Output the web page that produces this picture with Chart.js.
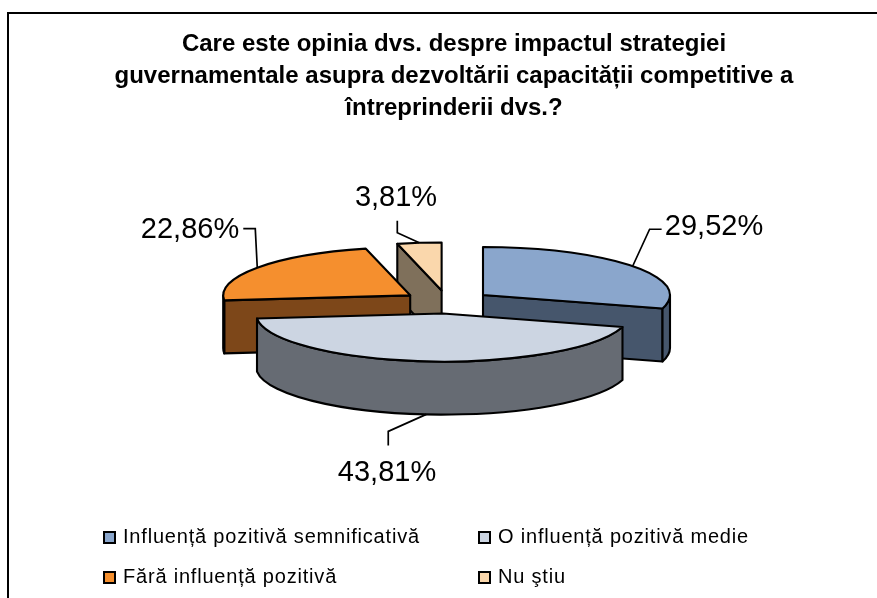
<!DOCTYPE html>
<html><head><meta charset="utf-8">
<style>html,body{margin:0;padding:0;background:#fff}#w{width:877px;height:598px}canvas{display:block}</style>
<script src="https://cdn.jsdelivr.net/npm/chart.js@4"></script>
</head><body><div id="w"><canvas id="c" width="877" height="598"></canvas></div>
<script>
const titleLines = ["Care este opinia dvs. despre impactul strategiei","guvernamentale asupra dezvoltării capacității competitive a","întreprinderii dvs.?"];
const categories = ["Influență pozitivă semnificativă","O influență pozitivă medie","Fără influență pozitivă","Nu ştiu"];
const values = [29.52,43.81,22.86,3.81];
const topColors = ["#8AA6CC","#CCD5E2","#F58F2E","#FAD7AC"];
const wallColors = ["#46566C","#666B73","#7D4719","#7F705B"];

const FONT = '"Liberation Sans", Arial, sans-serif';
const P = {cx:447, cy:302, k:0.257, explode:45, depth:53, lw:2.1};
const drawOrder = [3,0,2,1];
const leaders = [
  {elbow:[17,-37], end:[29,-37], text:[714,227]},
  {elbow:[-38,17], end:[-38,31], text:[387,473]},
  {elbow:[-2,-39], end:[-14,-39], text:[190,230]},
  {elbow:[-22,-10], end:[-22,-22], text:[396,198]}
];
const legendPos = [
  {x:104,y:537},{x:479,y:537},{x:104,y:577},{x:479,y:577}
];

function geom(arc){
  const mid=(arc.startAngle+arc.endAngle)/2;
  const rx=arc.outerRadius, ry=rx*P.k;
  return {a:arc.startAngle,b:arc.endAngle,mid,rx,ry,
    x:P.cx+Math.cos(mid)*P.explode, y:P.cy+Math.sin(mid)*P.explode*P.k};
}
const pie3d = {
  id:'pie3d',
  beforeDraw(chart){
    const c=chart.ctx; c.save();
    c.strokeStyle='#000'; c.lineWidth=2;
    c.beginPath();c.moveTo(8,620);c.lineTo(8,13);c.lineTo(900,13);c.stroke();
    c.restore();
  },
  beforeDatasetDraw(chart){
    const ctx=chart.ctx, arcs=chart.getDatasetMeta(0).data;
    ctx.save();
    ctx.lineJoin='round'; ctx.strokeStyle='#000'; ctx.lineWidth=P.lw;
    for(const i of drawOrder){
      const arc=arcs[i], g=geom(arc), H=P.depth;
      ctx.fillStyle=wallColors[i];
      const face=(t)=>{
        const ex=g.x+Math.cos(t)*g.rx, ey=g.y+Math.sin(t)*g.ry;
        ctx.beginPath();ctx.moveTo(g.x,g.y);ctx.lineTo(ex,ey);ctx.lineTo(ex,ey+H);ctx.lineTo(g.x,g.y+H);ctx.closePath();ctx.fill();ctx.stroke();
      };
      if(-Math.cos(g.a)>1e-6) face(g.a);
      if(Math.cos(g.b)>1e-6) face(g.b);
      for(const off of [0,2*Math.PI,-2*Math.PI]){
        const s=Math.max(g.a+off,0), e=Math.min(g.b+off,Math.PI);
        if(e>s){
          ctx.beginPath();
          ctx.ellipse(g.x,g.y,g.rx,g.ry,0,s,e);
          ctx.ellipse(g.x,g.y+H,g.rx,g.ry,0,e,s,true);
          ctx.closePath();ctx.fill();ctx.stroke();
        }
      }
      ctx.save();
      ctx.translate(g.x,g.y);ctx.scale(1,P.k);ctx.translate(-arc.x,-arc.y);
      arc.draw(ctx);
      ctx.restore();
      ctx.beginPath();ctx.moveTo(g.x,g.y);ctx.ellipse(g.x,g.y,g.rx,g.ry,0,g.a,g.b);ctx.closePath();ctx.stroke();
    }
    ctx.restore();
    return false;
  },
  afterDraw(chart){
    const ctx=chart.ctx, arcs=chart.getDatasetMeta(0).data;
    ctx.save();
    ctx.lineWidth=1.7; ctx.strokeStyle='#000'; ctx.lineJoin='miter';
    ctx.fillStyle='#000';
    ctx.textAlign='center'; ctx.textBaseline='middle';
    ctx.font='29px '+FONT;
    arcs.forEach((arc,i)=>{
      const g=geom(arc), L=leaders[i];
      let ax=g.x+Math.cos(g.mid)*g.rx, ay=g.y+Math.sin(g.mid)*g.ry;
      if(Math.sin(g.mid)>0) ay+=P.depth;
      ctx.beginPath();ctx.moveTo(ax,ay);ctx.lineTo(ax+L.elbow[0],ay+L.elbow[1]);ctx.lineTo(ax+L.end[0],ay+L.end[1]);ctx.stroke();
      ctx.fillText(values[i].toFixed(2).replace('.',',')+'%',L.text[0],L.text[1]);
    });
    ctx.textAlign='left'; ctx.textBaseline='alphabetic';
    ctx.font='20px '+FONT;
    ctx.letterSpacing='0.8px';
    categories.forEach((t,i)=>{
      const p=legendPos[i];
      ctx.fillStyle=topColors[i];ctx.lineWidth=2;
      ctx.fillRect(p.x,p.y-5,11,11);ctx.strokeRect(p.x,p.y-5,11,11);
      ctx.fillStyle='#000';
      ctx.fillText(t,p.x+19,p.y+6);
    });
    ctx.restore();
  }
};
new Chart(document.getElementById('c'),{
  type:'pie',
  data:{labels:categories,datasets:[{data:values,backgroundColor:topColors,borderWidth:0,clip:false}]},
  options:{
    responsive:false,animation:false,radius:187,
    layout:{padding:{top:29,left:31,bottom:150}},
    plugins:{
      legend:{display:false},tooltip:{enabled:false},
      title:{display:true,text:titleLines,color:'#000',align:'center',padding:0,
        font:{family:FONT,size:24,weight:'bold',lineHeight:1.32}}
    }
  },
  plugins:[pie3d]
});
</script></body></html>
